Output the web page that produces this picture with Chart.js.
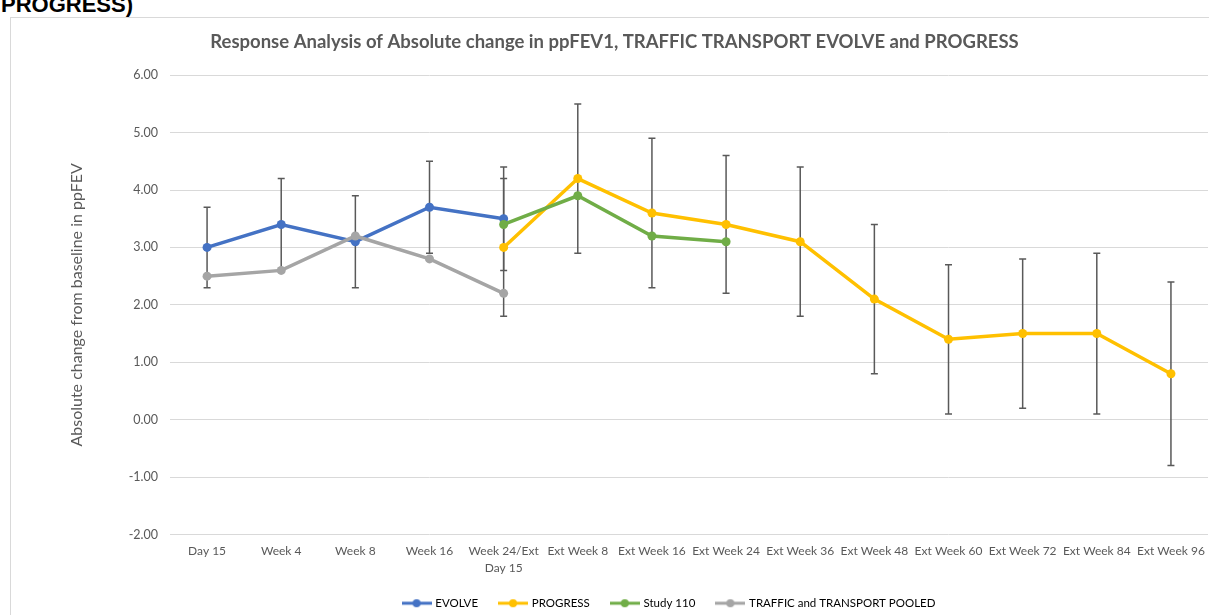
<!DOCTYPE html>
<html>
<head>
<meta charset="utf-8">
<script src="https://cdn.jsdelivr.net/npm/chart.js@4.4.1/dist/chart.umd.min.js"></script>
<style>
  body { margin: 0; background: #fff; overflow: hidden; }
  #heading { position: absolute; left: 1px; top: -6px; font: bold 22px 'Liberation Sans', Arial, sans-serif; line-height: 22px; color: #000; }
  #frame { position: absolute; left: 10px; top: 17px; width: 1300px; height: 700px; border: 1px solid #d9d9d9; }
  #myChart { position: absolute; left: 0; top: 0; }
</style>
</head>
<body>
<div id="heading">PROGRESS)</div>
<div id="frame"></div>
<canvas id="myChart" width="1214" height="625"></canvas>
<script>
// values
const categories = ["Day 15", "Week 4", "Week 8", "Week 16", ["Week 24/Ext", "Day 15"],
  "Ext Week 8", "Ext Week 16", "Ext Week 24", "Ext Week 36", "Ext Week 48",
  "Ext Week 60", "Ext Week 72", "Ext Week 84", "Ext Week 96"];

const evolve = [3.0, 3.4, 3.1, 3.7, 3.5, null, null, null, null, null, null, null, null, null];
const evolveErr = [0.7, 0.8, 0.8, 0.8, 0.9, null, null, null, null, null, null, null, null, null];

const progress = [null, null, null, null, 3.0, 4.2, 3.6, 3.4, 3.1, 2.1, 1.4, 1.5, 1.5, 0.8];
const progressErr = [null, null, null, null, 1.2, 1.3, 1.3, 1.2, 1.3, 1.3, 1.3, 1.3, 1.4, 1.6];

const study110 = [null, null, null, null, 3.4, 3.9, 3.2, 3.1, null, null, null, null, null, null];

const pooled = [2.5, 2.6, 3.2, 2.8, 2.2, null, null, null, null, null, null, null, null, null];

const yMin = -2;
const yMax = 6;
const yStep = 1;

const grey = "#595959";
Chart.defaults.font.family = "Lato, 'Open Sans', sans-serif";
Chart.defaults.color = grey;

function series(label, data, color, order, err) {
  return {
    label: label,
    data: data,
    err: err,
    borderColor: color,
    backgroundColor: color,
    borderWidth: 3.5,
    pointRadius: 4.5,
    pointHoverRadius: 4.5,
    pointBorderWidth: 0,
    tension: 0,
    order: order
  };
}

// small line + dot picture for the legend
function legendMark(color) {
  const c = document.createElement("canvas");
  c.width = 30;
  c.height = 10;
  const g = c.getContext("2d");
  g.strokeStyle = color;
  g.lineWidth = 3;
  g.beginPath();
  g.moveTo(0, 5);
  g.lineTo(30, 5);
  g.stroke();
  g.fillStyle = color;
  g.beginPath();
  g.arc(15, 5, 4, 0, Math.PI * 2);
  g.fill();
  return c;
}

const errorBars = {
  id: "errorBars",
  beforeDatasetsDraw(chart) {
    const ctx = chart.ctx;
    const y = chart.scales.y;
    ctx.save();
    ctx.strokeStyle = grey;
    ctx.lineWidth = 1.5;
    chart.data.datasets.forEach((ds, i) => {
      if (!ds.err) return;
      const meta = chart.getDatasetMeta(i);
      ds.data.forEach((v, j) => {
        const e = ds.err[j];
        if (v == null || e == null) return;
        const x = meta.data[j].x;
        const top = y.getPixelForValue(v + e);
        const bot = y.getPixelForValue(v - e);
        ctx.beginPath();
        ctx.moveTo(x, top);
        ctx.lineTo(x, bot);
        ctx.moveTo(x - 3.5, top);
        ctx.lineTo(x + 3.5, top);
        ctx.moveTo(x - 3.5, bot);
        ctx.lineTo(x + 3.5, bot);
        ctx.stroke();
      });
    });
    ctx.restore();
  }
};

// Excel centres the legend a bit right of the title
const legendShift = {
  id: "legendShift",
  afterLayout(chart) {
    chart.legend.left += 55;
    chart.legend.right += 55;
  }
};

const ctx = document.getElementById("myChart");

new Chart(ctx, {
  type: "line",
  data: {
    labels: categories,
    datasets: [
      series("EVOLVE", evolve, "#4472C4", 4, evolveErr),
      series("PROGRESS", progress, "#FFC000", 3, progressErr),
      series("Study 110", study110, "#70AD47", 2, null),
      series("TRAFFIC and TRANSPORT POOLED", pooled, "#A5A5A5", 1, null)
    ]
  },
  plugins: [errorBars, legendShift],
  options: {
    responsive: false,
    animation: false,
    devicePixelRatio: 1,
    layout: { padding: { left: 16, right: 1, top: 0, bottom: 6 } },
    plugins: {
      title: {
        display: true,
        text: "Response Analysis of Absolute change in ppFEV1, TRAFFIC TRANSPORT EVOLVE and PROGRESS",
        color: grey,
        font: { size: 18.5, weight: "bold" },
        padding: { top: 31, bottom: 22 }
      },
      legend: {
        position: "bottom",
        labels: {
          color: grey,
          font: { size: 11.5 },
          padding: 22,
          usePointStyle: true,
          pointStyleWidth: 26,
          generateLabels: (chart) => chart.data.datasets.map((ds, i) => ({
            text: ds.label,
            pointStyle: legendMark(ds.borderColor),
            fillStyle: ds.borderColor,
            strokeStyle: ds.borderColor,
            lineWidth: 0,
            hidden: false,
            datasetIndex: i
          }))
        }
      },
      tooltip: { enabled: false }
    },
    scales: {
      x: {
        offset: true,
        grid: { display: false, drawTicks: false },
        border: { display: false },
        ticks: { color: grey, font: { size: 12, lineHeight: 1.35 }, padding: 9, maxRotation: 0, autoSkip: false },
        afterFit: (scale) => { scale.height = 41; }
      },
      y: {
        min: yMin,
        max: yMax,
        grid: { color: "#d9d9d9", lineWidth: 1, drawTicks: false },
        border: { display: false },
        ticks: {
          stepSize: yStep,
          color: grey,
          font: { size: 12.5 },
          padding: 12,
          callback: (v) => v.toFixed(2)
        },
        title: {
          display: true,
          text: "Absolute change from baseline in ppFEV",
          color: grey,
          font: { size: 16 },
          padding: { top: 51, bottom: 0 }
        },
        afterFit: (scale) => { scale.width = 154; }
      }
    }
  }
});
</script>
</body>
</html>
